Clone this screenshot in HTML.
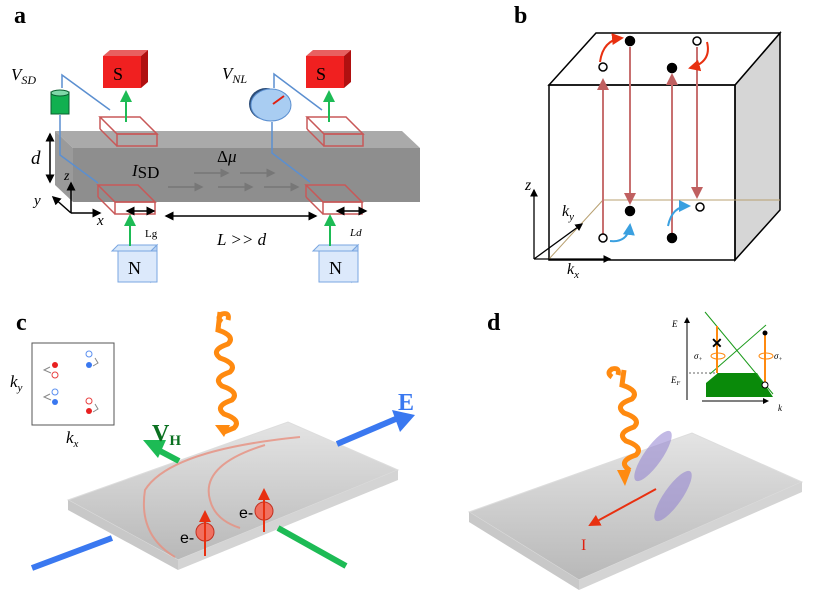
<!DOCTYPE html>
<html><head><meta charset="utf-8"><style>body{margin:0;background:#fff}svg{display:block}</style></head>
<body>
<svg width="817" height="613" viewBox="0 0 817 613" xmlns="http://www.w3.org/2000/svg" font-family="Liberation Serif, serif">
<defs>
<marker id="ag" markerWidth="6" markerHeight="6" refX="5" refY="3" orient="auto"><path d="M0,0L6,3L0,6z" fill="#1dbb55"/></marker>
<marker id="ak" markerWidth="6" markerHeight="6" refX="5" refY="3" orient="auto-start-reverse"><path d="M0,0L6,3L0,6z" fill="#000"/></marker>
<marker id="agr" markerWidth="6" markerHeight="6" refX="5" refY="3" orient="auto"><path d="M0,0L6,3L0,6z" fill="#777"/></marker>
<marker id="ar" markerWidth="6" markerHeight="6" refX="5" refY="3" orient="auto"><path d="M0,0L6,3L0,6z" fill="#c06060"/></marker>
<marker id="arr" markerWidth="6" markerHeight="6" refX="5" refY="3" orient="auto"><path d="M0,0L6,3L0,6z" fill="#e83010"/></marker>
<marker id="ab" markerWidth="6" markerHeight="6" refX="5" refY="3" orient="auto"><path d="M0,0L6,3L0,6z" fill="#3aa0e0"/></marker>
<linearGradient id="slab" x1="0" y1="0" x2="0" y2="1"><stop offset="0" stop-color="#e4e4e4"/><stop offset="1" stop-color="#b8b8b8"/></linearGradient>
</defs>
<!-- Panel a -->
<text x="14" y="23" font-size="24" font-weight="bold">a</text>
<polygon points="55,131 402,131 420,148 73,148" fill="#aaa"/>
<polygon points="73,148 420,148 420,202 73,202" fill="#8e8e8e"/>
<polygon points="55,131 73,148 73,202 55,185" fill="#9a9a9a"/>
<g fill="none" stroke="#c85858" stroke-width="1.5">
<polygon points="100,117 140,117 157,134 117,134"/><polygon points="117,134 157,134 157,146 117,146"/><line x1="100" y1="117" x2="100" y2="129"/><line x1="100" y1="129" x2="117" y2="146"/>
<polygon points="98,185 138,185 155,202 115,202"/><polygon points="115,202 155,202 155,214 115,214"/><line x1="98" y1="185" x2="98" y2="197"/><line x1="98" y1="197" x2="115" y2="214"/>
<polygon points="307,117 346,117 363,134 324,134"/><polygon points="324,134 363,134 363,146 324,146"/><line x1="307" y1="117" x2="307" y2="129"/><line x1="307" y1="129" x2="324" y2="146"/>
<polygon points="306,185 345,185 362,202 323,202"/><polygon points="323,202 362,202 362,214 323,214"/><line x1="306" y1="185" x2="306" y2="197"/><line x1="306" y1="197" x2="323" y2="214"/>
</g>
<g fill="none" stroke="#5b8fd0" stroke-width="1.5">
<polyline points="62,88 62,75 110,110"/><polyline points="60,115 60,155 98,183"/>
<polyline points="274,88 274,74 322,110"/><polyline points="272,122 272,153 310,182"/>
</g>
<rect x="51" y="92" width="18" height="22" fill="#11b050" stroke="#0a6030"/><ellipse cx="60" cy="93" rx="9" ry="3" fill="#7fd8a8" stroke="#0a6030"/>
<ellipse cx="266" cy="104" rx="17" ry="16" fill="#2c4d78"/><ellipse cx="271" cy="105" rx="20" ry="16" fill="#a9cdf2" stroke="#5b8fd0"/>
<line x1="273" y1="104" x2="284" y2="96" stroke="#e02010" stroke-width="2"/>
<g><polygon points="103,56 110,50 148,50 141,56" fill="#e86060"/><polygon points="141,56 148,50 148,82 141,88" fill="#b01010"/><rect x="103" y="56" width="38" height="32" fill="#f02020"/><text x="113" y="80" font-size="18">S</text></g>
<g><polygon points="306,56 313,50 351,50 344,56" fill="#e86060"/><polygon points="344,56 351,50 351,82 344,88" fill="#b01010"/><rect x="306" y="56" width="38" height="32" fill="#f02020"/><text x="316" y="80" font-size="18">S</text></g>
<g><polygon points="112,251 118,245 157,245 151,251" fill="#d8e8fa" stroke="#7aa6e0"/><polygon points="151,251 157,245 157,276 151,282" fill="#b8d2f4" stroke="#7aa6e0"/><rect x="118" y="251" width="39" height="31" fill="#dce9fb" stroke="#7aa6e0"/><text x="128" y="274" font-size="18">N</text></g>
<g><polygon points="313,251 319,245 358,245 352,251" fill="#d8e8fa" stroke="#7aa6e0"/><polygon points="352,251 358,245 358,276 352,282" fill="#b8d2f4" stroke="#7aa6e0"/><rect x="319" y="251" width="39" height="31" fill="#dce9fb" stroke="#7aa6e0"/><text x="329" y="274" font-size="18">N</text></g>
<g stroke="#1dbb55" stroke-width="2" marker-end="url(#ag)"><line x1="126" y1="122" x2="126" y2="92"/><line x1="329" y1="122" x2="329" y2="92"/><line x1="130" y1="246" x2="130" y2="216"/><line x1="330" y1="246" x2="330" y2="216"/></g>
<g stroke="#777" stroke-width="1.5" marker-end="url(#agr)"><line x1="194" y1="173" x2="228" y2="173"/><line x1="240" y1="173" x2="274" y2="173"/><line x1="168" y1="187" x2="202" y2="187"/><line x1="218" y1="187" x2="252" y2="187"/><line x1="264" y1="187" x2="298" y2="187"/></g>
<g stroke="#000" stroke-width="1.5"><line x1="50" y1="134" x2="50" y2="182" marker-start="url(#ak)" marker-end="url(#ak)"/><line x1="127" y1="211" x2="154" y2="211" marker-start="url(#ak)" marker-end="url(#ak)"/><line x1="166" y1="216" x2="316" y2="216" marker-start="url(#ak)" marker-end="url(#ak)"/><line x1="337" y1="211" x2="366" y2="211" marker-start="url(#ak)" marker-end="url(#ak)"/>
<line x1="71" y1="213" x2="71" y2="183" marker-end="url(#ak)"/><line x1="71" y1="213" x2="100" y2="213" marker-end="url(#ak)"/><line x1="71" y1="213" x2="53" y2="197" marker-end="url(#ak)"/></g>
<g font-style="italic" font-size="17"><text x="11" y="80">V<tspan font-size="12" dy="4">SD</tspan></text><text x="222" y="79">V<tspan font-size="12" dy="4">NL</tspan></text><text x="31" y="164" font-size="19">d</text><text x="132" y="176">I<tspan font-style="normal" dy="2">SD</tspan></text><text x="217" y="162" font-style="normal">Δ<tspan font-style="italic">μ</tspan></text><text x="64" y="180" font-size="14">z</text><text x="34" y="205" font-size="15">y</text><text x="97" y="225" font-size="15">x</text><text x="217" y="245">L &gt;&gt; d</text><text x="350" y="236" font-size="11">Ld</text></g>
<text x="145" y="237" font-size="11">Lg</text>
<!-- Panel b -->
<text x="514" y="23" font-size="24" font-weight="bold">b</text>
<polygon points="735,85 780,33 780,210 735,260" fill="#d6d6d6" stroke="#000" stroke-width="1.5"/>
<polygon points="549,85 596,33 780,33 735,85" fill="#fff" stroke="#000" stroke-width="1.5"/>
<rect x="549" y="85" width="186" height="175" fill="none" stroke="#000" stroke-width="1.5"/>
<g stroke="#b8a070" stroke-width="1"><line x1="549" y1="259" x2="603" y2="200"/><line x1="603" y1="200" x2="780" y2="200"/></g>
<g stroke="#c87070" stroke-width="2" marker-end="url(#ar)"><line x1="603" y1="234" x2="603" y2="80"/><line x1="630" y1="47" x2="630" y2="203"/><line x1="672" y1="234" x2="672" y2="75"/><line x1="697" y1="47" x2="697" y2="197"/></g>
<g stroke="#e83010" stroke-width="2" fill="none" marker-end="url(#arr)"><path d="M600,62 Q603,40 622,38"/><path d="M707,42 Q712,62 690,68"/></g>
<g stroke="#3aa0e0" stroke-width="2" fill="none" marker-end="url(#ab)"><path d="M610,241 Q628,243 630,225"/><path d="M668,226 Q672,206 689,206"/></g>
<g stroke="#000" stroke-width="1.5"><circle cx="630" cy="41" r="4.5"/><circle cx="603" cy="67" r="4" fill="#fff"/><circle cx="697" cy="41" r="4" fill="#fff"/><circle cx="672" cy="68" r="4.5"/><circle cx="630" cy="211" r="4.5"/><circle cx="603" cy="238" r="4" fill="#fff"/><circle cx="700" cy="207" r="4" fill="#fff"/><circle cx="672" cy="238" r="4.5"/></g>
<g stroke="#000" stroke-width="1.3"><line x1="534" y1="259" x2="534" y2="190" marker-end="url(#ak)"/><line x1="534" y1="259" x2="610" y2="259" marker-end="url(#ak)"/><line x1="534" y1="259" x2="582" y2="224" marker-end="url(#ak)"/></g>
<g font-style="italic" font-size="16"><text x="525" y="190">z</text><text x="562" y="216">k<tspan font-size="11" dy="4">y</tspan></text><text x="567" y="274">k<tspan font-size="11" dy="4">x</tspan></text></g>
<!-- Panel c -->
<text x="16" y="330" font-size="24" font-weight="bold">c</text>
<rect x="32" y="343" width="82" height="82" fill="#fff" stroke="#555"/>
<g><circle cx="55" cy="365" r="3" fill="#e82020"/><circle cx="55" cy="375" r="3" fill="none" stroke="#e84040"/><circle cx="89" cy="354" r="3" fill="none" stroke="#5b8ff0"/><circle cx="89" cy="365" r="3" fill="#3a78f0"/><circle cx="55" cy="392" r="3" fill="none" stroke="#5b8ff0"/><circle cx="55" cy="402" r="3" fill="#3a78f0"/><circle cx="89" cy="401" r="3" fill="none" stroke="#e84040"/><circle cx="89" cy="411" r="3" fill="#e82020"/></g>
<g stroke="#888" fill="none" stroke-width="1"><path d="M51,373 l-7,-3 l6,-3"/><path d="M93,366 l5,-3 l-3,-5"/><path d="M51,400 l-7,-3 l6,-3"/><path d="M93,412 l5,-3 l-3,-5"/></g>
<text x="10" y="387" font-size="17" font-style="italic">k<tspan font-size="11" dy="4">y</tspan></text><text x="66" y="443" font-size="17" font-style="italic">k<tspan font-size="11" dy="4">x</tspan></text>
<polygon points="68,500 288,422 398,470 178,560" fill="url(#slab)" stroke="#ddd"/>
<polygon points="68,500 178,560 178,570 68,510" fill="#c8c8c8"/><polygon points="178,560 398,470 398,480 178,570" fill="#d4d4d4"/>
<line x1="32" y1="568" x2="112" y2="538" stroke="#3a78f0" stroke-width="6"/>
<line x1="337" y1="444" x2="398" y2="418" stroke="#3a78f0" stroke-width="6"/><polygon points="392,410 415,415 400,432" fill="#3a78f0"/>
<text x="398" y="410" font-size="24" font-weight="bold" fill="#3a78f0">E</text>
<line x1="278" y1="528" x2="346" y2="566" stroke="#1dbb55" stroke-width="6"/>
<line x1="179" y1="461" x2="160" y2="451" stroke="#1dbb55" stroke-width="6"/><polygon points="143,440 166,440 158,458" fill="#1dbb55"/>
<text x="152" y="441" font-size="24" font-weight="bold" fill="#0a7020">V<tspan font-size="15" dy="4">H</tspan></text>
<g stroke="#e89080" stroke-width="2" fill="none" opacity="0.8"><path d="M300,437 Q170,450 145,490 Q138,535 175,557"/><path d="M265,445 Q200,465 210,500 Q215,520 240,528"/></g>
<path d="M222,322 q-6,-4 0,-8 q8,-2 6,6 M220,312 L218,330 q18,6 10,14 q-18,6 -8,14 q18,6 10,14 q-18,6 -8,14 q18,6 10,14 q-18,6 -8,14 q18,6 10,14 L224,432" fill="none" stroke="#ff8a10" stroke-width="5"/>
<polygon points="215,425 230,425 224,437" fill="#ff8a10"/>
<g><circle cx="205" cy="532" r="9" fill="#f07060" stroke="#c03020"/><line x1="205" y1="556" x2="205" y2="512" stroke="#e83010" stroke-width="2" marker-end="url(#arr)"/><text x="180" y="543" font-size="16" font-family="Liberation Sans, sans-serif">e-</text>
<circle cx="264" cy="511" r="9" fill="#f07060" stroke="#c03020"/><line x1="264" y1="532" x2="264" y2="490" stroke="#e83010" stroke-width="2" marker-end="url(#arr)"/><text x="239" y="518" font-size="16" font-family="Liberation Sans, sans-serif">e-</text></g>
<!-- Panel d -->
<text x="487" y="330" font-size="24" font-weight="bold">d</text>
<polygon points="469,512 692,433 802,482 579,580" fill="url(#slab)" stroke="#ddd"/>
<polygon points="469,512 579,580 579,590 469,522" fill="#c8c8c8"/><polygon points="579,580 802,482 802,492 579,590" fill="#d4d4d4"/>
<ellipse cx="653" cy="456" rx="30" ry="9" transform="rotate(-55 653 456)" fill="#9080d0" opacity="0.55"/>
<ellipse cx="673" cy="496" rx="30" ry="9" transform="rotate(-55 673 496)" fill="#9080d0" opacity="0.55"/>
<line x1="656" y1="489" x2="590" y2="525" stroke="#e83010" stroke-width="2" marker-end="url(#arr)"/>
<text x="581" y="550" font-size="16" fill="#e02010">I</text>
<path d="M612,377 q-6,-4 0,-8 q8,-2 6,6 M624,370 L622,385 q18,6 10,14 q-18,6 -8,14 q18,6 10,14 q-18,6 -8,14 q18,6 10,14 q-18,6 -8,14 L624,475" fill="none" stroke="#ff8a10" stroke-width="5"/>
<polygon points="617,470 631,470 625,486" fill="#ff8a10"/>
<line x1="687" y1="400" x2="687" y2="318" stroke="#000" stroke-width="1" marker-end="url(#ak)"/>
<line x1="702" y1="401" x2="768" y2="401" stroke="#000" stroke-width="1" marker-end="url(#ak)"/>
<polygon points="706,383 718,373 757,373 773,397 706,397" fill="#0a8a0a"/>
<line x1="710" y1="374" x2="766" y2="325" stroke="#1a9a1a"/><line x1="705" y1="312" x2="773" y2="394" stroke="#1a9a1a"/>
<line x1="689" y1="373" x2="718" y2="373" stroke="#666" stroke-dasharray="2,2"/>
<line x1="717" y1="326" x2="717" y2="373" stroke="#ff8a10" stroke-width="2"/><line x1="765" y1="333" x2="765" y2="384" stroke="#ff8a10" stroke-width="2"/>
<circle cx="765" cy="333" r="2.5"/><circle cx="765" cy="385" r="3" fill="#fff" stroke="#000"/>
<text x="711" y="348" font-size="14" font-weight="bold" font-family="Liberation Sans, sans-serif">✕</text>
<g font-size="9" font-style="italic"><text x="672" y="327">E</text><text x="671" y="383">E<tspan font-size="6" dy="2">F</tspan></text><text x="778" y="411">k</text><text x="694" y="359">σ<tspan font-size="6" dy="2">+</tspan></text><text x="774" y="359">σ<tspan font-size="6" dy="2">+</tspan></text></g>
<g fill="none" stroke="#ff8a10"><ellipse cx="718" cy="356" rx="7" ry="3"/><ellipse cx="766" cy="356" rx="7" ry="3"/></g>
</svg>
</body></html>
